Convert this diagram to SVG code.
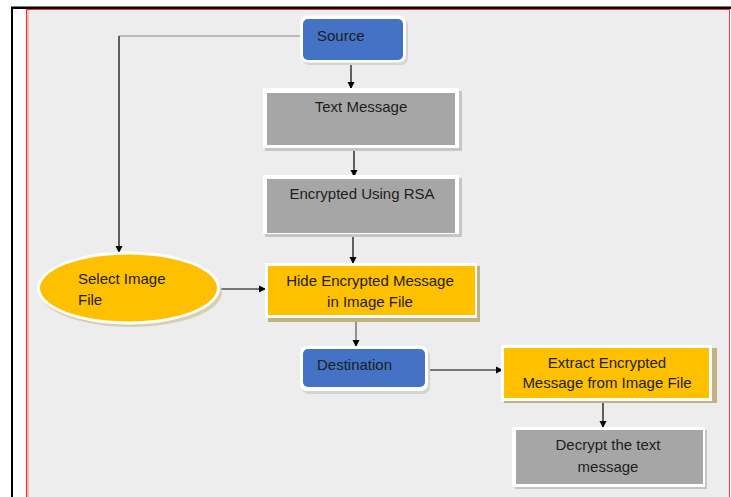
<svg xmlns="http://www.w3.org/2000/svg" width="731" height="497" viewBox="0 0 731 497">
<defs>
<marker id="ah" markerWidth="8" markerHeight="8" refX="7" refY="4" orient="auto" markerUnits="userSpaceOnUse">
<path d="M0,0.5 L7,4 L0,7.5 Z" fill="#000"/>
</marker>
<style>
text{font-family:"Liberation Sans",Arial,sans-serif;font-size:15px;fill:#1e1e1e}
.c{text-anchor:middle}
.wh{fill:#ffffff}
.blue{fill:#4472C4}
.yel{fill:#FFC000}
.gry{fill:#A6A6A6}
.sh{fill:#c6c6c6}
.tan{fill:#C2B283}
.ln{stroke:#000;stroke-width:1.2;fill:none;marker-end:url(#ah)}
</style>
</defs>
<rect x="0" y="0" width="731" height="497" fill="#fff"/>
<rect x="27" y="10" width="702.5" height="490" fill="#EDEDED"/>
<line x1="26.6" y1="9" x2="26.6" y2="497" stroke="#f03030" stroke-width="1.3"/>
<line x1="28" y1="10" x2="28" y2="497" stroke="#f5b0b0" stroke-width="1.6"/>
<line x1="729.5" y1="9" x2="729.5" y2="497" stroke="#f04040" stroke-width="1"/>
<line x1="26" y1="9.5" x2="730" y2="9.5" stroke="#f03030" stroke-width="1"/>
<line x1="11" y1="7.8" x2="731" y2="7.8" stroke="#000" stroke-width="2.4"/>
<line x1="12" y1="7" x2="12" y2="497" stroke="#000" stroke-width="2"/>

<g id="connectors">
<polyline points="302,36 119,36" stroke="#8a8a8a" stroke-width="1" fill="none"/>
<line x1="119" y1="36" x2="119" y2="253" class="ln" stroke="#444" style="stroke:#3a3a3a;stroke-width:1.6"/>
<line x1="351" y1="61" x2="351" y2="89" class="ln"/>
<line x1="354" y1="148" x2="354" y2="177" class="ln"/>
<line x1="353" y1="236" x2="353" y2="264" class="ln"/>
<line x1="219" y1="289" x2="266" y2="289" class="ln"/>
<line x1="356" y1="317" x2="356" y2="347" class="ln" style="stroke:#555"/>
<line x1="427" y1="370" x2="503" y2="370" class="ln"/>
<line x1="603" y1="399" x2="603" y2="428" class="ln"/>
</g>

<g id="source">
<rect x="302" y="18" width="106" height="47" rx="7" fill="#d4d4d4"/>
<rect x="300" y="15.5" width="106" height="47" rx="7" class="wh"/>
<rect x="303" y="19" width="100" height="41" rx="5" class="blue"/>
<text x="317" y="41">Source</text>
</g>

<g id="text-message">
<rect x="265" y="91" width="197" height="60" class="sh"/>
<rect x="263" y="88" width="196" height="60" class="wh"/>
<rect x="267" y="93" width="188" height="52" class="gry"/>
<text x="361" y="112" class="c">Text Message</text>
</g>

<g id="encrypted">
<rect x="265" y="178" width="197" height="59" class="sh"/>
<rect x="263" y="175" width="196" height="59" class="wh"/>
<rect x="267" y="179" width="188" height="54" class="gry"/>
<text x="362" y="199" class="c">Encrypted Using RSA</text>
</g>

<g id="select-image">
<ellipse cx="131" cy="292" rx="91" ry="35" fill="#d8d0b4"/>
<ellipse cx="128.5" cy="288" rx="91.5" ry="36.5" class="wh"/>
<ellipse cx="128.5" cy="288" rx="88.5" ry="33.5" class="yel"/>
<text x="78" y="284">Select Image</text>
<text x="78" y="305">File</text>
</g>

<g id="hide">
<rect x="268" y="266" width="212" height="56" class="tan"/>
<rect x="265" y="263" width="212" height="55" class="wh"/>
<rect x="268" y="266" width="207" height="49" class="yel"/>
<text x="370" y="286" class="c">Hide Encrypted Message</text>
<text x="370" y="307" class="c">in Image File</text>
</g>

<g id="destination">
<rect x="302" y="349" width="128" height="45" rx="7" fill="#d4d4d4"/>
<rect x="300" y="346" width="128" height="45" rx="7" class="wh"/>
<rect x="303" y="349" width="122" height="38" rx="5" class="blue"/>
<text x="317" y="370">Destination</text>
</g>

<g id="extract">
<rect x="504" y="348" width="213" height="55" class="tan"/>
<rect x="501" y="345" width="211" height="56" class="wh"/>
<rect x="504" y="348" width="205" height="50" class="yel"/>
<text x="607" y="368" class="c">Extract Encrypted</text>
<text x="607" y="388" class="c">Message from Image File</text>
</g>

<g id="decrypt">
<rect x="515" y="430" width="192" height="59" class="sh"/>
<rect x="512" y="427" width="193" height="60" class="wh"/>
<rect x="516" y="430" width="187" height="54" class="gry"/>
<text x="608" y="450" class="c">Decrypt the text</text>
<text x="608" y="472" class="c">message</text>
</g>
</svg>
